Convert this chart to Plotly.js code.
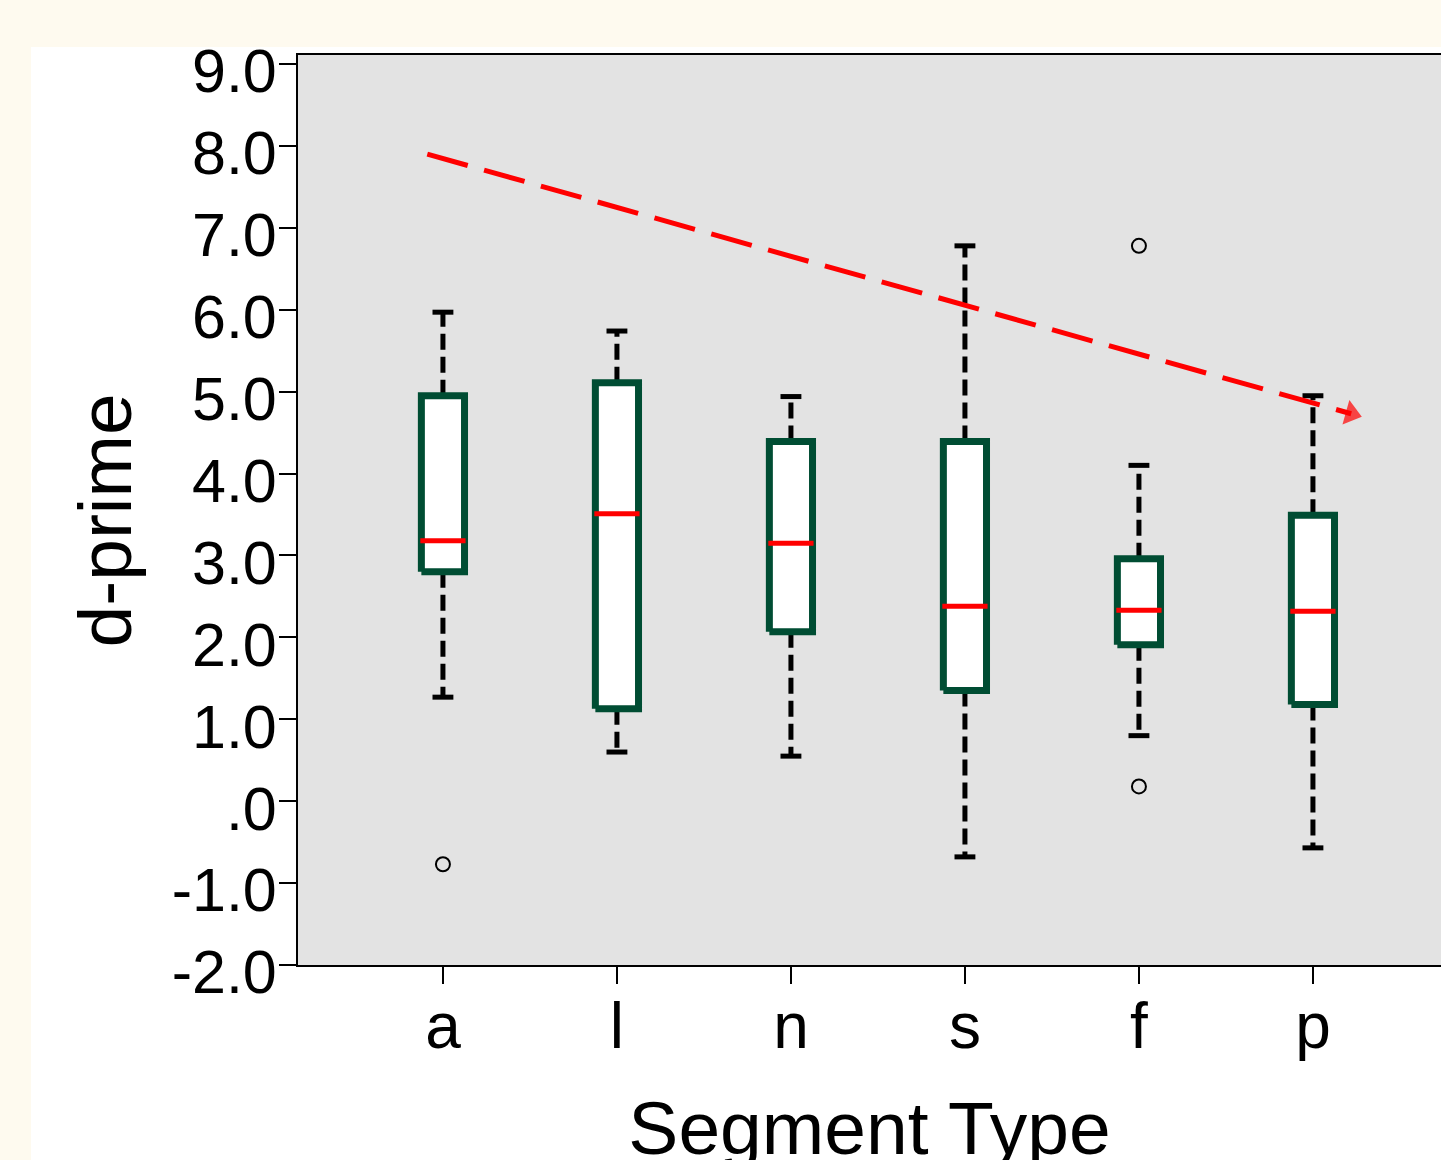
<!DOCTYPE html>
<html>
<head>
<meta charset="utf-8">
<script src="https://cdn.plot.ly/plotly-3.0.1.min.js"></script>
<style>
  html, body { margin: 0; padding: 0; background: #FEFAEF; width: 1441px; height: 1160px; overflow: hidden; }
  #paper { position: absolute; left: 31px; top: 47px; width: 1410px; height: 1113px; background: #FFFFFF; }
  #chart { position: absolute; left: 0; top: 0; width: 1441px; height: 1200px; }
</style>
</head>
<body>
<div id="paper"></div>
<div id="chart"></div>
<script>
// ---- data ----
const categories = ["a", "l", "n", "s", "f", "p"];
const whiskerLow  = [1.27, 0.60, 0.55, -0.68, 0.80, -0.57];
const q1          = [2.80, 1.13, 2.07, 1.35, 1.91, 1.18];
const median      = [3.18, 3.51, 3.15, 2.38, 2.33, 2.32];
const q3          = [4.95, 5.11, 4.39, 4.39, 2.96, 3.49];
const whiskerHigh = [5.97, 5.74, 4.94, 6.78, 4.10, 4.95];
const outlierCat  = ["a", "f", "f"];
const outlierVal  = [-0.77, 6.78, 0.18];
const trendX      = [-0.09, 5.22];
const trendY      = [7.90, 4.73];
const yTickVals   = [-2, -1, 0, 1, 2, 3, 4, 5, 6, 7, 8, 9];
const yTickText   = ["-2.0", "-1.0", ".0", "1.0", "2.0", "3.0", "4.0", "5.0", "6.0", "7.0", "8.0", "9.0"];

// ---- styles ----
const BOX_HALF = 0.124, MED_HALF = 0.13, CAP_HALF = 0.06;
const GREEN = "#004D33", RED = "#FF0000";
const FONT = "Liberation Sans, Arial, sans-serif";

const idx = categories.map((_, i) => i);

// whiskers (dashed)
const wx = [], wy = [];
idx.forEach(i => {
  wx.push(i, i, null, i, i, null);
  wy.push(q3[i], whiskerHigh[i], null, q1[i], whiskerLow[i], null);
});
// caps
const cx = [], cy = [];
idx.forEach(i => {
  cx.push(i - CAP_HALF, i + CAP_HALF, null, i - CAP_HALF, i + CAP_HALF, null);
  cy.push(whiskerHigh[i], whiskerHigh[i], null, whiskerLow[i], whiskerLow[i], null);
});
// boxes
const bx = [], by = [];
idx.forEach(i => {
  bx.push(i - BOX_HALF, i + BOX_HALF, i + BOX_HALF, i - BOX_HALF, i - BOX_HALF, null);
  by.push(q1[i], q1[i], q3[i], q3[i], q1[i], null);
});
// medians
const mx = [], my = [];
idx.forEach(i => {
  mx.push(i - MED_HALF, i + MED_HALF, null);
  my.push(median[i], median[i], null);
});

const traces = [
  { type: "scatter", mode: "lines", x: wx, y: wy, hoverinfo: "skip",
    line: { color: "#000", width: 5, dash: "16px,7px" } },
  { type: "scatter", mode: "lines", x: cx, y: cy, hoverinfo: "skip",
    line: { color: "#000", width: 5 } },
  { type: "scatter", mode: "lines", x: bx, y: by, fill: "toself", fillcolor: "#FFFFFF",
    line: { color: GREEN, width: 7 }, hoverinfo: "skip" },
  { type: "scatter", mode: "lines", x: mx, y: my, hoverinfo: "skip",
    line: { color: RED, width: 5 } },
  { type: "scatter", mode: "markers",
    x: outlierCat.map(c => categories.indexOf(c)), y: outlierVal,
    marker: { symbol: "circle-open", size: 14, color: "#000", line: { width: 2, color: "#000" } } },
  { type: "scatter", mode: "lines+markers", x: trendX, y: trendY, hoverinfo: "skip",
    line: { color: RED, width: 5, dash: "42px,17px" },
    marker: { symbol: ["circle", "triangle-up"], size: [0, 22], color: RED, angleref: "previous",
              line: { width: 0 } } }
];

const layout = {
  width: 1441, height: 1200,
  margin: { l: 298, r: 0, t: 55, b: 235 },
  paper_bgcolor: "rgba(0,0,0,0)",
  plot_bgcolor: "#E3E3E3",
  showlegend: false,
  font: { family: FONT, color: "#000" },
  xaxis: {
    range: [-0.833, 5.736],
    tickvals: idx, ticktext: categories,
    ticks: "outside", ticklen: 17, tickwidth: 2, tickcolor: "#000",
    tickfont: { size: 64, family: FONT, color: "#000" },
    ticklabelstandoff: -13,
    showgrid: false, zeroline: false,
    showline: true, linecolor: "#000", linewidth: 2, mirror: true,
    title: { text: "Segment Type", font: { size: 75, family: FONT, color: "#000" }, standoff: 41 },
    automargin: false
  },
  yaxis: {
    range: [-2, 9.11],
    tickvals: yTickVals, ticktext: yTickText,
    ticks: "outside", ticklen: 17, tickwidth: 2, tickcolor: "#000",
    tickfont: { size: 61, family: FONT, color: "#000" },
    ticklabelstandoff: -10,
    ticklabelshift: 7,
    ticklabeloverflow: "allow",
    showgrid: false, zeroline: false,
    showline: true, linecolor: "#000", linewidth: 2,
    title: { text: "d-prime\u00a0\u200b", font: { size: 75, family: FONT, color: "#000" }, standoff: 15 },
    automargin: false
  }
};

Plotly.newPlot("chart", traces, layout, { displayModeBar: false, staticPlot: true });
</script>
</body>
</html>
